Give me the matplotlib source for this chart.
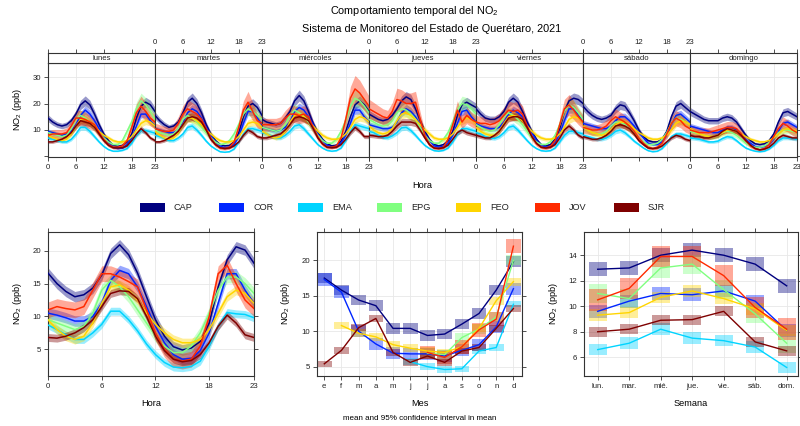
import numpy as np
import matplotlib
matplotlib.use("Agg")
import matplotlib.pyplot as plt
from matplotlib.patches import Rectangle

plt.rcParams['font.family'] = ['Liberation Sans', 'DejaVu Sans']
plt.rcParams['mathtext.fontset'] = 'custom'
plt.rcParams['mathtext.rm'] = 'Liberation Sans'
plt.rcParams['mathtext.it'] = 'Liberation Sans:italic'
plt.rcParams['mathtext.default'] = 'regular'

# ---------------- data ----------------
sites = ['CAP', 'COR', 'EMA', 'EPG', 'FEO', 'JOV', 'SJR']
site_colors = ['#00007F', '#0026FF', '#00D4FF', '#80FF80', '#FFD500', '#FF2A00', '#7F0000']
days = ['lunes', 'martes', 'miércoles', 'jueves', 'viernes', 'sábado', 'domingo']
day_abbr = ['lun.', 'mar.', 'mié.', 'jue.', 'vie.', 'sáb.', 'dom.']
month_abbr = ['e', 'f', 'm', 'a', 'm', 'j', 'j', 'a', 's', 'o', 'n', 'd']
hours = np.arange(24)
nan = np.nan

# NO2 by weekday and hour (ppb), one list of 24 hours per weekday
cap_week = [
    [14.5, 13.0, 12.0, 11.5, 12.0, 13.5, 16.0, 19.5, 21.0, 19.5, 16.0, 12.0, 8.5, 6.0, 4.2, 3.8, 4.2, 5.5, 8.5, 14.5, 19.0, 20.5, 19.5, 17.0],
    [15.5, 13.5, 12.0, 11.0, 11.5, 13.0, 16.5, 20.5, 22.0, 20.0, 16.5, 12.0, 8.5, 6.0, 4.5, 4.0, 4.2, 5.5, 9.0, 15.0, 19.0, 20.0, 18.5, 15.5],
    [14.0, 13.0, 12.5, 12.0, 12.5, 14.5, 17.0, 21.0, 23.0, 21.0, 17.0, 12.5, 9.0, 6.5, 4.8, 4.0, 4.3, 5.8, 9.5, 15.0, 19.5, 21.0, 19.5, 17.0],
    [16.0, 15.0, 14.0, 13.5, 14.0, 15.5, 18.0, 21.0, 22.5, 21.5, 18.0, 13.5, 9.5, 6.5, 4.5, 4.0, 4.5, 6.0, 9.5, 15.5, 19.5, 20.5, 19.5, 18.5],
    [18.0, 16.0, 14.5, 14.0, 14.0, 15.0, 17.0, 20.5, 22.0, 20.5, 17.0, 13.0, 9.5, 6.5, 4.5, 4.0, 4.5, 6.5, 10.5, 17.0, 21.0, 22.0, 21.5, 20.0],
    [19.0, 17.0, 15.5, 14.5, 14.0, 14.5, 15.5, 18.0, 19.5, 19.0, 16.5, 13.5, 10.0, 7.5, 6.0, 5.5, 5.5, 6.5, 9.5, 15.0, 19.0, 20.0, 18.5, 17.0],
    [17.0, 16.0, 15.0, 14.0, 13.5, 13.5, 13.5, 14.5, 15.0, 14.5, 13.0, 10.5, 8.0, 6.0, 4.8, 4.5, 4.8, 6.0, 8.5, 13.0, 16.5, 17.0, 16.0, 15.0],
]
cor_week = [
    [9.5, 9.0, 8.5, 8.0, 8.5, 9.5, 12.0, 15.5, 17.5, 16.0, 13.5, 10.5, 7.5, 5.0, 3.5, 3.0, 3.2, 4.5, 7.0, 11.5, 16.0, 16.0, 13.5, 11.5],
    [10.5, 10.0, 9.5, 9.0, 9.0, 10.0, 12.5, 16.5, 18.0, 17.0, 14.5, 11.0, 8.0, 5.5, 4.0, 3.2, 3.5, 4.5, 7.5, 12.5, 17.0, 17.0, 14.5, 12.0],
    [11.0, 10.5, 10.0, 9.5, 10.0, 11.0, 13.0, 17.0, 18.5, 17.5, 15.0, 12.0, 8.5, 6.0, 4.2, 3.5, 3.8, 5.0, 8.0, 12.5, 17.5, 17.5, 15.0, 13.0],
    [12.0, 11.5, 11.0, 10.5, 10.5, 11.0, 13.0, 16.5, 18.0, 17.0, 15.0, 12.0, 8.5, 6.0, 4.0, 3.5, 3.8, 5.0, 8.0, 12.5, 17.0, 17.5, 15.0, 13.0],
    [12.5, 11.5, 11.0, 10.5, 10.5, 11.0, 13.0, 16.0, 17.5, 16.5, 15.0, 12.0, 9.0, 6.0, 4.2, 3.5, 3.8, 5.2, 8.5, 13.5, 18.0, 18.0, 15.5, 13.5],
    [12.5, 12.0, 11.5, 11.0, 10.5, 10.5, 11.5, 13.5, 15.0, 15.0, 13.5, 11.5, 9.0, 7.0, 5.0, 4.5, 4.5, 5.5, 8.0, 12.0, 15.5, 16.0, 14.5, 13.0],
    [11.5, 11.0, 10.5, 10.0, 9.5, 9.0, 9.0, 10.0, 11.0, 11.0, 10.0, 8.5, 6.5, 5.0, 3.8, 3.5, 3.8, 4.5, 6.5, 9.5, 12.5, 13.0, 12.0, 11.0],
]
ema_week = [
    [7.0, 6.5, 6.0, 5.5, 5.5, 6.5, 8.5, 11.0, 11.0, 9.5, 7.5, 5.5, 3.8, 2.6, 2.0, 2.0, 2.3, 3.0, 5.0, 8.0, 9.8, 9.8, 9.3, 8.8],
    [8.0, 7.5, 6.8, 6.0, 6.0, 7.0, 8.5, 11.0, 11.5, 10.0, 8.0, 5.8, 4.0, 2.8, 1.8, 1.6, 1.8, 2.8, 5.5, 8.5, 10.5, 10.5, 10.0, 9.5],
    [9.0, 8.5, 7.8, 7.0, 7.0, 8.0, 9.5, 11.5, 12.0, 10.5, 8.5, 6.5, 4.5, 3.2, 2.3, 2.0, 2.2, 3.2, 6.0, 9.5, 12.0, 11.5, 11.0, 10.5],
    [9.5, 9.0, 8.0, 7.2, 7.0, 7.8, 9.0, 10.8, 11.0, 9.8, 8.0, 6.0, 4.2, 3.0, 2.2, 2.0, 2.3, 3.2, 5.5, 8.5, 10.5, 10.5, 10.0, 9.5],
    [9.0, 8.5, 7.5, 7.0, 6.8, 7.5, 9.0, 11.0, 11.5, 10.0, 8.0, 6.0, 4.2, 3.0, 2.2, 2.0, 2.2, 3.2, 5.5, 8.0, 9.5, 9.5, 9.0, 8.5],
    [8.0, 7.5, 7.0, 6.5, 6.5, 7.0, 8.0, 9.5, 10.0, 9.0, 7.5, 5.8, 4.5, 3.2, 2.2, 1.8, 2.0, 3.0, 5.0, 7.5, 8.5, 8.5, 8.0, 7.5],
    [7.0, 6.8, 6.5, 6.0, 5.5, 5.5, 5.8, 6.8, 7.5, 7.2, 6.0, 4.5, 3.2, 2.5, 2.0, 1.8, 2.0, 2.8, 4.2, 6.0, 7.0, 7.0, 6.8, 6.5],
]
epg_week = [
    [9.0, 8.5, 8.0, 7.5, 8.0, 10.5, 14.0, 15.5, 14.5, 13.0, 11.0, 9.0, 7.0, 5.5, 4.5, 4.5, 6.0, 9.5, 13.0, 18.0, 21.0, 19.5, 17.0, 14.0],
    [10.0, 9.0, 8.5, 8.0, 8.5, 10.5, 14.0, 15.5, 14.5, 13.0, 11.0, 9.0, 7.0, 5.5, 4.5, 4.8, 6.0, 8.5, 12.0, 16.0, 18.0, 17.0, 15.5, 14.0],
    [11.0, 10.5, 10.0, 9.5, 10.0, 12.0, 15.5, 17.5, 16.5, 15.0, 13.0, 10.5, 8.0, 6.0, 5.0, 5.0, 6.5, 9.5, 13.5, 19.0, 22.0, 21.0, 19.0, 16.5],
    [14.0, 13.0, 12.0, 11.5, 12.0, 13.5, 16.5, 18.0, 17.5, 16.0, 14.0, 11.0, 8.0, 6.0, 5.0, 5.0, 6.5, 9.0, 13.0, 17.5, 20.0, 19.5, 18.0, 16.0],
    [12.0, 11.0, 10.0, 9.5, 10.0, 12.0, 15.0, 16.5, 15.5, 14.0, 12.0, 9.5, 7.0, 5.5, 4.5, 4.5, 5.5, 8.0, 12.0, 17.0, 19.5, 18.5, 16.5, 14.0],
    [11.0, 10.0, 9.0, 8.5, 8.5, 9.5, 11.5, 13.0, 13.0, 12.0, 10.5, 9.0, 7.0, 5.5, 4.5, 4.5, 5.0, 6.5, 9.0, 12.5, 14.5, 14.0, 13.0, 12.0],
    [9.5, 9.0, 8.5, 8.0, 7.5, 7.5, 8.0, 9.0, 9.5, 9.0, 8.0, 6.5, 5.0, 4.0, 3.5, 3.5, 4.0, 5.0, 7.0, 9.0, 10.0, 10.0, 9.5, 9.0],
]
feo_week = [
    [8.0, 7.0, 6.5, 6.0, 6.5, 8.5, 11.5, 14.0, 14.0, 13.0, 11.5, 9.5, 8.0, 7.0, 6.0, 5.5, 5.5, 6.0, 7.5, 10.0, 12.5, 13.5, 13.0, 11.5],
    [9.5, 8.0, 7.0, 6.5, 7.0, 9.0, 12.0, 14.5, 14.5, 13.5, 12.0, 10.0, 8.5, 7.0, 6.0, 5.5, 5.5, 6.0, 7.5, 10.0, 12.5, 13.0, 12.5, 11.0],
    [9.5, 8.5, 7.5, 7.0, 7.5, 9.5, 13.0, 15.5, 16.0, 15.0, 13.5, 11.5, 9.5, 8.0, 7.0, 6.5, 6.5, 7.0, 8.5, 11.0, 14.0, 15.0, 14.5, 13.0],
    [11.5, 10.0, 9.0, 8.5, 9.0, 10.5, 13.5, 16.0, 16.5, 15.5, 14.0, 12.0, 10.0, 8.5, 7.0, 6.5, 6.5, 7.0, 8.5, 11.0, 13.5, 14.5, 14.0, 12.5],
    [11.0, 9.5, 8.5, 8.0, 8.0, 9.5, 12.5, 15.0, 15.5, 15.0, 13.5, 11.5, 9.5, 8.0, 7.0, 6.5, 6.5, 7.0, 8.5, 11.0, 14.0, 15.0, 14.5, 13.0],
    [11.5, 10.0, 9.0, 8.5, 8.0, 8.5, 10.0, 12.0, 13.0, 13.0, 12.0, 10.5, 9.0, 8.0, 7.0, 6.5, 6.5, 7.0, 8.0, 10.0, 12.5, 13.5, 13.0, 12.0],
    [10.5, 9.5, 8.5, 8.0, 7.5, 7.5, 8.0, 9.0, 10.0, 10.0, 9.5, 8.5, 7.5, 6.5, 6.0, 5.5, 5.5, 6.0, 7.0, 8.5, 10.0, 10.5, 10.0, 9.5],
]
jov_week = [
    [8.0, 8.5, 8.5, 8.5, 9.0, 11.5, 14.5, 14.5, 14.0, 13.0, 12.0, 9.0, 6.5, 4.5, 3.5, 3.5, 4.0, 6.0, 11.0, 16.5, 19.0, 17.0, 14.5, 13.0],
    [10.5, 10.0, 9.5, 9.5, 10.0, 12.5, 16.0, 18.0, 17.0, 16.0, 14.0, 10.5, 7.0, 4.5, 3.2, 3.0, 3.5, 5.5, 11.0, 17.5, 20.5, 17.0, 13.5, 12.5],
    [12.0, 12.0, 12.0, 12.0, 12.5, 14.5, 16.0, 16.0, 15.5, 16.0, 15.0, 11.0, 7.5, 4.8, 3.5, 3.5, 4.0, 7.0, 14.0, 22.0, 25.5, 24.0, 21.5, 19.0],
    [18.0, 17.0, 16.0, 15.0, 14.5, 17.0, 21.5, 21.0, 20.0, 20.0, 20.5, 14.0, 8.0, 4.5, 3.2, 3.0, 3.5, 6.5, 12.0, 17.5, 13.0, 15.5, 14.0, 13.0],
    [13.0, 12.5, 12.5, 12.0, 12.5, 13.5, 15.5, 17.5, 17.0, 17.5, 16.0, 11.5, 7.5, 4.8, 3.5, 3.2, 3.8, 6.0, 12.0, 18.0, 19.5, 17.5, 15.0, 13.0],
    [11.0, 10.5, 10.0, 10.0, 10.5, 11.5, 13.5, 15.0, 14.0, 13.0, 11.5, 9.5, 7.0, 5.0, 3.5, 3.0, 3.5, 5.0, 8.5, 12.5, 14.5, 13.5, 11.5, 10.5],
    [10.0, 9.5, 9.0, 9.0, 9.0, 9.5, 10.0, 10.5, 11.0, 11.0, 10.5, 8.5, 6.0, 4.0, 3.0, 2.5, 3.0, 4.5, 7.5, 10.5, 12.5, 11.5, 10.0, 9.0],
]
sjr_week = [
    [5.5, 5.5, 6.0, 6.5, 7.5, 9.0, 11.5, 13.5, 13.0, 12.5, 11.0, 8.5, 6.0, 4.2, 3.3, 3.2, 3.3, 4.0, 6.0, 8.5, 10.5, 9.0, 7.0, 6.0],
    [5.5, 5.5, 6.0, 7.0, 8.0, 9.5, 12.0, 14.5, 15.0, 14.5, 13.0, 10.0, 6.5, 4.5, 3.3, 3.0, 3.2, 4.0, 5.5, 8.0, 10.0, 9.0, 7.5, 7.0],
    [7.0, 7.0, 7.5, 8.0, 8.5, 10.0, 12.0, 14.5, 15.0, 14.5, 13.5, 10.5, 7.0, 4.8, 3.5, 3.3, 3.5, 4.5, 6.5, 9.0, 11.0, 9.5, 7.5, 7.5],
    [8.0, 7.8, 7.5, 7.5, 8.0, 9.5, 11.5, 13.0, 13.0, 13.0, 12.5, 10.0, 7.0, 4.5, 3.2, 3.0, 3.3, 4.3, 6.5, 9.0, 10.0, 9.0, 8.5, 8.0],
    [8.0, 7.5, 7.0, 7.0, 8.0, 9.5, 12.0, 14.5, 15.0, 15.0, 14.0, 11.0, 7.5, 5.0, 3.5, 3.2, 3.5, 4.5, 7.0, 10.0, 11.5, 10.0, 8.0, 7.0],
    [7.5, 7.0, 6.5, 6.5, 7.0, 8.0, 9.5, 11.5, 12.0, 11.5, 10.5, 8.5, 6.0, 4.5, 3.2, 3.0, 3.2, 4.0, 5.5, 7.0, 8.0, 7.5, 6.5, 6.0],
    [8.0, 7.5, 7.5, 7.0, 7.0, 7.5, 8.0, 9.5, 10.5, 10.0, 9.5, 8.0, 6.0, 4.3, 3.0, 2.5, 2.8, 3.5, 5.0, 7.0, 8.0, 7.5, 7.0, 7.0],
]
week_hour = [cap_week, cor_week, ema_week, epg_week, feo_week, jov_week, sjr_week]
# relative half-width of the 95% CI in the weekday-hour panels
week_hour_rel_ci = [0.09, 0.09, 0.10, 0.14, 0.11, 0.20, 0.10]

# diurnal profile (ppb)
cap_hour = [16.6, 15.0, 13.8, 13.0, 13.3, 14.3, 16.3, 19.6, 20.9, 19.4, 16.6, 13.0, 9.5, 7.0, 5.4, 4.9, 5.2, 6.2, 9.0, 14.5, 18.6, 20.6, 20.1, 18.1]
cor_hour = [10.5, 10.2, 9.8, 9.3, 9.3, 10.0, 12.0, 15.5, 17.0, 16.5, 14.5, 11.5, 8.5, 6.0, 4.2, 3.5, 3.6, 4.8, 7.5, 12.0, 16.5, 16.5, 14.0, 12.0]
ema_hour = [8.7, 8.0, 7.2, 6.5, 6.5, 7.5, 8.8, 10.8, 10.8, 9.5, 7.8, 5.8, 4.2, 3.0, 2.3, 2.2, 2.4, 3.2, 5.5, 8.5, 10.6, 10.4, 10.3, 9.8]
epg_hour = [9.5, 9.0, 8.5, 8.0, 8.5, 10.5, 14.0, 15.5, 14.5, 13.0, 11.0, 9.0, 7.0, 5.5, 4.5, 4.5, 5.5, 7.5, 10.5, 14.0, 16.0, 16.0, 15.0, 13.5]
feo_hour = [9.5, 8.0, 7.0, 6.5, 7.0, 9.0, 12.0, 14.5, 14.8, 14.0, 12.5, 10.5, 8.8, 7.5, 6.5, 6.0, 6.0, 6.5, 8.0, 10.5, 13.0, 14.0, 13.5, 12.0]
jov_hour = [11.0, 11.5, 11.2, 11.0, 11.5, 14.0, 16.5, 16.5, 16.0, 15.3, 14.5, 11.0, 7.5, 5.0, 3.5, 3.2, 3.5, 5.5, 10.0, 16.5, 17.8, 15.0, 12.5, 11.2]
sjr_hour = [6.8, 6.7, 7.0, 7.5, 8.3, 9.5, 11.5, 13.5, 13.9, 13.8, 12.7, 10.0, 7.0, 4.8, 3.5, 3.1, 3.3, 4.2, 6.0, 8.5, 10.2, 9.0, 7.2, 6.8]
hour_means = [cap_hour, cor_hour, ema_hour, epg_hour, feo_hour, jov_hour, sjr_hour]
hour_ci = [0.8, 0.8, 0.6, 0.9, 0.7, 1.2, 0.6]

# monthly means (ppb)
cap_month = [17.5, 15.8, 14.4, 13.6, 10.4, 10.4, 9.4, 9.6, 11.0, 12.5, 15.8, 19.8]
cor_month = [17.3, 15.5, 10.0, 8.2, 6.9, 6.8, 6.8, 6.5, 7.3, 8.1, 10.6, 16.0]
ema_month = [nan, nan, nan, nan, nan, 5.7, 5.0, 4.6, 4.7, 7.2, 7.7, 13.8]
epg_month = [nan, nan, nan, nan, nan, nan, 6.9, 6.7, 9.1, 10.3, 12.0, 20.0]
feo_month = [nan, 10.8, 9.7, 9.2, 8.1, 7.6, 7.2, 7.0, 7.8, 10.4, 14.3, 17.0]
jov_month = [nan, nan, nan, nan, nan, nan, 7.0, 6.3, 7.8, 10.2, 11.7, 22.0]
sjr_month = [5.4, 7.3, 10.5, 11.8, 7.0, 5.6, 6.5, 5.6, 7.2, 7.7, 10.4, 13.2]
month_means = [cap_month, cor_month, ema_month, epg_month, feo_month, jov_month, sjr_month]
month_ci = [0.75, 0.85, 0.45, 0.7, 0.55, 0.95, 0.45]

# weekday means (ppb)
cap_day = [12.9, 13.0, 14.0, 14.4, 14.0, 13.3, 11.6]
cor_day = [9.6, 10.4, 11.0, 10.9, 11.2, 10.4, 8.1]
ema_day = [6.6, 7.1, 8.2, 7.5, 7.3, 6.8, 5.2]
epg_day = [11.0, 10.6, 13.0, 13.3, 11.3, 9.4, 7.1]
feo_day = [9.3, 9.5, 10.7, 11.2, 10.6, 9.8, 8.1]
jov_day = [10.5, 11.4, 13.9, 13.9, 12.4, 9.9, 8.2]
sjr_day = [8.0, 8.2, 8.9, 8.95, 9.6, 7.2, 6.5]
day_means = [cap_day, cor_day, ema_day, epg_day, feo_day, jov_day, sjr_day]
day_ci = [0.55, 0.5, 0.45, 0.75, 0.45, 0.85, 0.4]

# ---------------- figure ----------------
W, H = 800, 426
fig = plt.figure(figsize=(W / 100, H / 100), dpi=100)
FRAME = '#333333'
GRID = '#E8E8E8'
TICK_FS = 5.6
LAB_FS = 6.6
BAND_ALPHA = 0.4


def px_axes(left, top, right, bottom):
    return fig.add_axes([left / W, 1 - bottom / H, (right - left) / W, (bottom - top) / H])


def style_frame(ax):
    for s in ax.spines.values():
        s.set_color(FRAME)
        s.set_linewidth(0.8)
    ax.tick_params(direction='out', length=3, width=0.6, color=FRAME,
                   labelsize=TICK_FS, labelcolor='#222222', pad=2)


# ---- top: weekday x hour panels ----
p_left, p_right = 48, 797
p_w = (p_right - p_left) / 7
hour_ticks = [0, 6, 12, 18, 23]
for d, day in enumerate(days):
    x0 = p_left + d * p_w
    ax = px_axes(x0, 63, x0 + p_w, 157)
    style_frame(ax)
    ax.set_xlim(0, 23)
    ax.set_ylim(-0.2, 35.3)
    for gx in hour_ticks:
        ax.axvline(gx, color=GRID, lw=0.6, zorder=0)
    for gy in [10, 20, 30]:
        ax.axhline(gy, color=GRID, lw=0.6, zorder=0)
    for k, series in enumerate(week_hour):
        v = np.array(series[d])
        r = week_hour_rel_ci[k]
        ax.fill_between(hours, v * (1 - r), v * (1 + r), color=site_colors[k],
                        alpha=BAND_ALPHA, lw=0, zorder=2)
        ax.plot(hours, v, color=site_colors[k], lw=1.1, zorder=3)
    ax.set_xticks(hour_ticks)
    if d % 2 == 0:
        ax.set_xticklabels([str(t) for t in hour_ticks])
    else:
        ax.set_xticklabels([])
    ax.set_yticks([0, 10, 20, 30])
    if d == 0:
        ax.set_yticklabels(['', '10', '20', '30'])
        ax.tick_params(axis='y', left=True, right=False)
    elif d == 6:
        ax.yaxis.tick_right()
        ax.set_yticklabels([])
    else:
        ax.tick_params(axis='y', left=False, right=False, labelleft=False)

    # strip with the day name and the top hour axis
    st = px_axes(x0, 52.5, x0 + p_w, 63)
    style_frame(st)
    st.set_xlim(0, 23)
    st.set_ylim(0, 1)
    st.set_yticks([])
    st.xaxis.tick_top()
    st.set_xticks(hour_ticks)
    if d % 2 == 1:
        st.set_xticklabels([str(t) for t in hour_ticks])
    else:
        st.set_xticklabels([])
    st.text(11.5, 0.45, day, ha='center', va='center', fontsize=5.6, color='#222222')

fig.text(422 / W, 1 - 186 / H, 'Hora', ha='center', va='center', fontsize=LAB_FS)
fig.text(17 / W, 1 - 110 / H, 'NO$_2$ (ppb)', ha='center', va='center',
         rotation=90, fontsize=LAB_FS)

# ---- titles ----
fig.text(414 / W, 1 - 11 / H, 'Comportamiento temporal del NO$_2$', ha='center',
         va='center', fontsize=7.8)
fig.text(432 / W, 1 - 29 / H, 'Sistema de Monitoreo del Estado de Querétaro, 2021',
         ha='center', va='center', fontsize=7.8)

# ---- legend ----
leg = fig.add_axes([0, 0, 1, 1])
leg.set_xlim(0, W)
leg.set_ylim(H, 0)
leg.axis('off')
leg_x0, leg_step = 140, 79
for k, name in enumerate(sites):
    lx = leg_x0 + k * leg_step
    leg.add_patch(Rectangle((lx, 203), 25, 8.5, facecolor=site_colors[k], edgecolor='none'))
    leg.text(lx + 34, 207.5, name, ha='left', va='center', fontsize=LAB_FS, color='#222222')


def box_panel(ax):
    style_frame(ax)
    ax.tick_params(top=True, right=True, labeltop=False, labelright=False)


# ---- bottom left: hour ----
ax = px_axes(48, 232, 254, 376)
box_panel(ax)
ax.set_xlim(0, 23)
ax.set_ylim(0.94, 22.85)
ax.set_xticks(hour_ticks)
ax.set_yticks([5, 10, 15, 20])
for gx in hour_ticks:
    ax.axvline(gx, color=GRID, lw=0.6, zorder=0)
for gy in [5, 10, 15, 20]:
    ax.axhline(gy, color=GRID, lw=0.6, zorder=0)
for k, v in enumerate(hour_means):
    v = np.array(v)
    ax.fill_between(hours, v - hour_ci[k], v + hour_ci[k], color=site_colors[k],
                    alpha=BAND_ALPHA, lw=0, zorder=2)
    ax.plot(hours, v, color=site_colors[k], lw=1.1, zorder=3)
fig.text(151 / W, 1 - 404 / H, 'Hora', ha='center', va='center', fontsize=LAB_FS)
fig.text(18 / W, 1 - 304 / H, 'NO$_2$ (ppb)', ha='center', va='center',
         rotation=90, fontsize=LAB_FS)

# ---- bottom middle: month ----
months = np.arange(1, 13)
ax = px_axes(317, 232, 522, 376)
box_panel(ax)
ax.set_xlim(0.576, 12.5)
ax.set_ylim(3.68, 24.0)
ax.set_xticks(months)
ax.set_xticklabels(month_abbr)
ax.set_yticks([5, 10, 15, 20])
for gx in months:
    ax.axvline(gx, color=GRID, lw=0.6, zorder=0)
for gy in [5, 10, 15, 20]:
    ax.axhline(gy, color=GRID, lw=0.6, zorder=0)
mw = 0.85
for k, v in enumerate(month_means):
    v = np.array(v, dtype=float)
    for m, val in zip(months, v):
        if np.isfinite(val):
            ax.add_patch(Rectangle((m - mw / 2, val - month_ci[k]), mw, 2 * month_ci[k],
                                   facecolor=site_colors[k], alpha=BAND_ALPHA,
                                   edgecolor='none', zorder=2))
    ax.plot(months, v, color=site_colors[k], lw=1.0, zorder=3)
fig.text(420 / W, 1 - 404 / H, 'Mes', ha='center', va='center', fontsize=LAB_FS)
fig.text(420 / W, 1 - 419 / H, 'mean and 95% confidence interval in mean',
         ha='center', va='center', fontsize=5.8)
fig.text(285 / W, 1 - 304 / H, 'NO$_2$ (ppb)', ha='center', va='center',
         rotation=90, fontsize=LAB_FS)

# ---- bottom right: weekday ----
wd = np.arange(1, 8)
ax = px_axes(584, 232, 798, 376)
box_panel(ax)
ax.set_xlim(0.565, 7.36)
ax.set_ylim(4.53, 15.82)
ax.set_xticks(wd)
ax.set_xticklabels(day_abbr)
ax.set_yticks([6, 8, 10, 12, 14])
for gx in wd:
    ax.axvline(gx, color=GRID, lw=0.6, zorder=0)
for gy in [6, 8, 10, 12, 14]:
    ax.axhline(gy, color=GRID, lw=0.6, zorder=0)
dw = 0.58
for k, v in enumerate(day_means):
    for x, val in zip(wd, v):
        ax.add_patch(Rectangle((x - dw / 2, val - day_ci[k]), dw, 2 * day_ci[k],
                               facecolor=site_colors[k], alpha=BAND_ALPHA,
                               edgecolor='none', zorder=2))
    ax.plot(wd, v, color=site_colors[k], lw=1.0, zorder=3)
fig.text(691 / W, 1 - 404 / H, 'Semana', ha='center', va='center', fontsize=LAB_FS)
fig.text(554 / W, 1 - 304 / H, 'NO$_2$ (ppb)', ha='center', va='center',
         rotation=90, fontsize=LAB_FS)

fig.savefig('out.png', dpi=100)
